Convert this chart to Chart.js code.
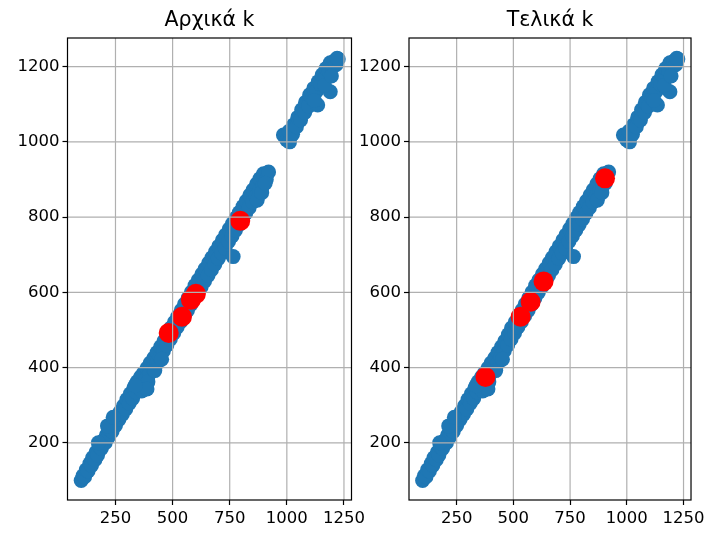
<!DOCTYPE html>
<html>
<head>
<meta charset="utf-8">
<script src="https://cdn.jsdelivr.net/npm/chart.js@4"></script>
<style>
  body { margin: 0; background: #fff; }
  #wrap { position: relative; width: 709px; height: 537px; overflow: hidden; }
  canvas { position: absolute; top: 0; }
</style>
</head>
<body>
<div id="wrap">
  <canvas id="leftChart" width="372" height="537" style="left:0px"></canvas>
  <canvas id="rightChart" width="368" height="537" style="left:341px"></canvas>
</div>
<script>
// Σημεία δεδομένων (ίδια και στα δύο γραφήματα)
const blueX = [100, 108, 115, 122, 130, 138, 145, 150, 160, 165, 172, 180, 188, 195, 205, 210, 218, 225, 235, 240,
  250, 255, 265, 270, 280, 285, 295, 300, 310, 315, 325, 330, 340, 345, 355, 360, 370, 372, 385, 388,
  400, 402, 415, 418, 430, 432, 445, 448, 460, 462, 475, 478, 490, 492, 505, 508, 520, 522, 535, 538,
  550, 552, 565, 568, 580, 582, 595, 598, 610, 612, 625, 628, 640, 642, 655, 658, 670, 672, 685, 688,
  700, 702, 715, 718, 730, 732, 745, 748, 760, 762, 775, 778, 790, 792, 805, 808, 820, 822, 835, 838,
  850, 852, 865, 868, 880, 882, 895, 898, 910, 920, 765,
  175, 215, 240, 365, 392, 422, 452, 388, 336, 870, 890, 905,
  985, 1000, 1012, 1010, 1025, 1030, 1042, 1048, 1060, 1065, 1078, 1082, 1095, 1100, 1112, 1118, 1130, 1135,
  1138, 1150, 1155, 1168, 1172, 1190, 1185, 1190, 1200, 1208, 1215, 1225, 1220,
  1120, 1165, 1195];
const blueY = [100, 112, 110, 128, 125, 145, 140, 160, 155, 175, 168, 190, 185, 205, 200, 220, 214, 235, 230, 252,
  246, 268, 262, 282, 276, 298, 290, 315, 305, 330, 318, 345, 335, 362, 350, 375, 360, 385, 370, 398,
  385, 412, 398, 425, 410, 440, 428, 455, 445, 470, 460, 488, 476, 505, 492, 520, 508, 535, 522, 552,
  538, 568, 552, 585, 568, 600, 585, 618, 600, 632, 615, 648, 630, 662, 645, 678, 660, 692, 675, 708,
  690, 722, 705, 738, 718, 752, 735, 768, 750, 782, 765, 798, 780, 812, 795, 828, 810, 842, 825, 858,
  840, 872, 855, 888, 870, 902, 885, 915, 900, 920, 695,
  200, 245, 268, 338, 362, 392, 422, 343, 352, 845, 865, 890,
  1018, 1005, 1000, 1028, 1020, 1045, 1040, 1065, 1058, 1085, 1078, 1105, 1095, 1125, 1115, 1142, 1135, 1098,
  1160, 1152, 1178, 1170, 1195, 1133, 1188, 1210, 1200, 1215, 1205, 1220, 1222,
  1110, 1150, 1175];

// Κέντρα (κόκκινα)
const initialX = [483, 541, 580, 602, 796];
const initialY = [492, 535, 580, 596, 790];
const finalX = [377, 532, 576, 633, 904];
const finalY = [375, 535, 575, 629, 903];

const titles = ['Αρχικά k', 'Τελικά k'];
const xTicks = [250, 500, 750, 1000, 1250];
const yTicks = [200, 400, 600, 800, 1000, 1200];

function toPoints(xs, ys) {
  return xs.map((x, i) => ({ x: x, y: ys[i] }));
}

// Πλέγμα και πλαίσιο πάνω από τα σημεία, όπως στο matplotlib
const gridOnTop = {
  id: 'gridOnTop',
  afterDatasetsDraw(chart) {
    const ctx = chart.ctx;
    const a = chart.chartArea;
    const xs = chart.scales.x;
    const ys = chart.scales.y;
    ctx.save();
    ctx.strokeStyle = '#b0b0b0';
    ctx.lineWidth = 1.2;
    ctx.beginPath();
    xs.ticks.forEach(t => {
      const px = xs.getPixelForValue(t.value);
      ctx.moveTo(px, a.top);
      ctx.lineTo(px, a.bottom);
    });
    ys.ticks.forEach(t => {
      const py = ys.getPixelForValue(t.value);
      ctx.moveTo(a.left, py);
      ctx.lineTo(a.right, py);
    });
    ctx.stroke();
    ctx.strokeStyle = '#000';
    ctx.lineWidth = 1.2;
    ctx.strokeRect(a.left, a.top, a.right - a.left, a.bottom - a.top);
    ctx.restore();
  }
};

function makeChart(id, title, redX, redY, yWidth, padRight) {
  return new Chart(document.getElementById(id), {
    type: 'scatter',
    data: {
      datasets: [
        {
          data: toPoints(redX, redY),
          backgroundColor: '#ff0000',
          borderWidth: 0,
          pointRadius: 10,
          order: 0
        },
        {
          data: toPoints(blueX, blueY),
          backgroundColor: '#1f77b4',
          borderWidth: 0,
          pointRadius: 7.5,
          order: 1
        }
      ]
    },
    options: {
      responsive: false,
      animation: false,
      layout: { padding: { left: 0, right: padRight, top: 0, bottom: 0 } },
      plugins: {
        legend: { display: false },
        tooltip: { enabled: false },
        title: {
          display: true,
          fullSize: false,
          text: title,
          color: '#000',
          font: { family: 'DejaVu Sans', size: 20.5, weight: 'normal', lineHeight: 1.2 },
          padding: { top: 8, bottom: 5.4 }
        }
      },
      scales: {
        x: {
          type: 'linear',
          min: 40,
          max: 1283,
          afterFit: s => { s.height = 37; },
          afterBuildTicks: s => { s.ticks = xTicks.map(v => ({ value: v })); },
          border: { display: false },
          grid: { drawOnChartArea: false, drawTicks: true, tickLength: 5, tickColor: '#000', tickWidth: 1.2 },
          ticks: {
            maxRotation: 0,
            autoSkip: false,
            padding: 4,
            color: '#000',
            font: { family: 'DejaVu Sans', size: 16.5 },
            callback: v => String(v)
          }
        },
        y: {
          type: 'linear',
          min: 48,
          max: 1276,
          afterFit: s => { s.width = yWidth; },
          afterBuildTicks: s => { s.ticks = yTicks.map(v => ({ value: v })); },
          border: { display: false },
          grid: { drawOnChartArea: false, drawTicks: true, tickLength: 5, tickColor: '#000', tickWidth: 1.2 },
          ticks: {
            autoSkip: false,
            padding: 3,
            color: '#000',
            font: { family: 'DejaVu Sans', size: 16.5 },
            callback: v => String(v)
          }
        }
      }
    },
    plugins: [gridOnTop]
  });
}

makeChart('leftChart', titles[0], initialX, initialY, 67.5, 20.5);
makeChart('rightChart', titles[1], finalX, finalY, 68, 17);
</script>
</body>
</html>
